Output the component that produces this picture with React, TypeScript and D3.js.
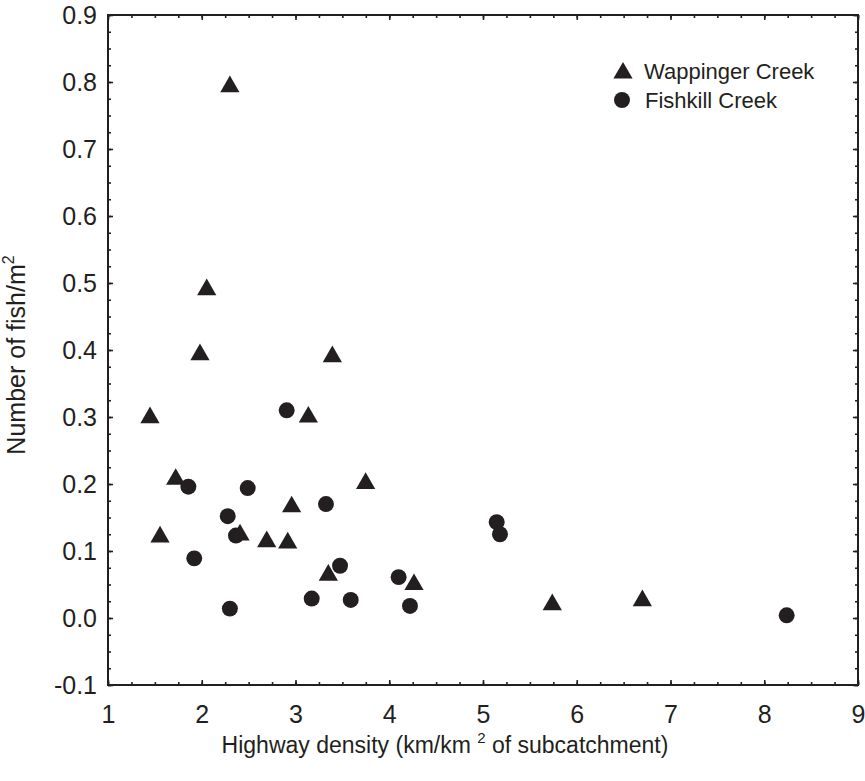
import React, { useEffect, useRef } from "react"
import * as d3 from "d3"

// Wappinger Creek (triangles)
const wappingerX = [2.30, 2.053, 1.981, 3.393, 1.448, 3.137, 1.722, 3.748, 2.959, 1.555, 2.408, 2.693, 2.917, 3.35, 4.264, 5.739, 6.70]
const wappingerY = [0.793, 0.490, 0.393, 0.390, 0.299, 0.300, 0.207, 0.201, 0.166, 0.121, 0.124, 0.114, 0.112, 0.064, 0.050, 0.020, 0.026]

// Fishkill Creek (circles)
const fishkillX = [2.906, 1.857, 2.49, 3.325, 2.277, 2.365, 1.92, 3.475, 4.10, 5.146, 5.181, 3.173, 3.589, 2.30, 4.221, 8.239]
const fishkillY = [0.310, 0.196, 0.194, 0.170, 0.152, 0.123, 0.089, 0.078, 0.061, 0.143, 0.125, 0.029, 0.027, 0.014, 0.018, 0.004]

const xTicks = [1, 2, 3, 4, 5, 6, 7, 8, 9]
const yTicks = [-0.1, 0, 0.1, 0.2, 0.3, 0.4, 0.5, 0.6, 0.7, 0.8, 0.9]

const legendLabels = ["Wappinger Creek", "Fishkill Creek"]

const ink = "#231f20"
const font = "'Liberation Sans', Arial, Helvetica, sans-serif"

export default function App() {
  const ref = useRef<SVGSVGElement | null>(null)

  useEffect(() => {
    const width = 865
    const height = 781
    const margin = { top: 15, right: 7, bottom: 96, left: 108 }

    const svg = d3.select(ref.current)
    svg.selectAll("*").remove()

    const x = d3.scaleLinear().domain([1, 9]).range([margin.left, width - margin.right])
    const y = d3.scaleLinear().domain([-0.1, 0.9]).range([height - margin.bottom, margin.top])

    const xMinor = d3.range(1, 9.001, 0.25)
    const yMinor = d3.range(-0.1, 0.9001, 0.025)

    const styleAxis = (g: any) => {
      g.select(".domain").remove()
      g.selectAll("line").attr("stroke", ink).attr("stroke-width", 1.6)
      g.selectAll("text").attr("fill", ink).attr("font-family", font).attr("font-size", 25)
    }

    // minor ticks (inward on every side)
    svg.append("g").attr("transform", `translate(0,${y(-0.1)})`)
      .call(d3.axisTop(x).tickValues(xMinor).tickSize(3).tickFormat(() => "")).call(styleAxis)
    svg.append("g").attr("transform", `translate(0,${y(0.9)})`)
      .call(d3.axisBottom(x).tickValues(xMinor).tickSize(3).tickFormat(() => "")).call(styleAxis)
    svg.append("g").attr("transform", `translate(${x(1)},0)`)
      .call(d3.axisRight(y).tickValues(yMinor).tickSize(3).tickFormat(() => "")).call(styleAxis)
    svg.append("g").attr("transform", `translate(${x(9)},0)`)
      .call(d3.axisLeft(y).tickValues(yMinor).tickSize(3).tickFormat(() => "")).call(styleAxis)

    // major ticks
    svg.append("g").attr("transform", `translate(0,${y(-0.1)})`)
      .call(d3.axisTop(x).tickValues(xTicks).tickSize(5).tickFormat(() => "")).call(styleAxis)
    svg.append("g").attr("transform", `translate(0,${y(0.9)})`)
      .call(d3.axisBottom(x).tickValues(xTicks).tickSize(5).tickFormat(() => "")).call(styleAxis)
    svg.append("g").attr("transform", `translate(${x(1)},0)`)
      .call(d3.axisRight(y).tickValues(yTicks).tickSize(5).tickFormat(() => "")).call(styleAxis)
    svg.append("g").attr("transform", `translate(${x(9)},0)`)
      .call(d3.axisLeft(y).tickValues(yTicks).tickSize(5).tickFormat(() => "")).call(styleAxis)

    // tick labels (plain hyphen for negatives, like the original)
    svg.append("g").attr("transform", `translate(0,${y(-0.1)})`)
      .call(d3.axisBottom(x).tickValues(xTicks).tickSize(0).tickPadding(20).tickFormat(d3.format("d")))
      .call(styleAxis)
    svg.append("g").attr("transform", `translate(${x(1)},0)`)
      .call(d3.axisLeft(y).tickValues(yTicks).tickSize(0).tickPadding(11)
        .tickFormat((d: any) => d3.format(".1f")(d).replace("\u2212", "-")))
      .call(styleAxis)

    // frame
    svg.append("rect")
      .attr("x", x(1)).attr("y", y(0.9))
      .attr("width", x(9) - x(1)).attr("height", y(-0.1) - y(0.9))
      .attr("fill", "none").attr("stroke", ink).attr("stroke-width", 2)

    const tri = d3.symbol().type(d3.symbolTriangle).size(160)
    const dot = d3.symbol().type(d3.symbolCircle).size(200)

    // points
    svg.append("g").selectAll("path")
      .data(fishkillX.map((v, i) => [v, fishkillY[i]]))
      .join("path")
      .attr("d", dot)
      .attr("transform", d => `translate(${x(d[0])},${y(d[1])})`)
      .attr("fill", ink)

    svg.append("g").selectAll("path")
      .data(wappingerX.map((v, i) => [v, wappingerY[i]]))
      .join("path")
      .attr("d", tri)
      .attr("transform", d => `translate(${x(d[0])},${y(d[1])})`)
      .attr("fill", ink)

    // legend
    const legend = svg.append("g").attr("font-family", font).attr("font-size", 22).attr("fill", ink)
    legend.append("path").attr("d", tri).attr("transform", "translate(623,73)").attr("fill", ink)
    legend.append("path").attr("d", dot).attr("transform", "translate(622,100)").attr("fill", ink)
    legend.append("text").attr("x", 644).attr("y", 71).attr("dy", "0.35em").text(legendLabels[0])
    legend.append("text").attr("x", 645).attr("y", 100).attr("dy", "0.35em").text(legendLabels[1])

    // axis titles
    const xt = svg.append("text")
      .attr("x", 445).attr("y", 753)
      .attr("text-anchor", "middle")
      .attr("font-family", font).attr("font-size", 23).attr("fill", ink)
    xt.append("tspan").text("Highway density (km/km ")
    xt.append("tspan").attr("font-size", 15).attr("dy", -10).text("2")
    xt.append("tspan").attr("dy", 10).text(" of subcatchment)")

    const yt = svg.append("text")
      .attr("transform", "translate(25,355) rotate(-90)")
      .attr("text-anchor", "middle")
      .attr("font-family", font).attr("font-size", 25).attr("fill", ink)
    yt.append("tspan").text("Number of fish/m")
    yt.append("tspan").attr("font-size", 16).attr("dy", -11).text("2")
  }, [])

  return (
    <div style={{ position: "absolute", left: 0, top: 0, background: "#fff" }}>
      <svg ref={ref} width={865} height={781} style={{ display: "block" }} />
    </div>
  )
}
